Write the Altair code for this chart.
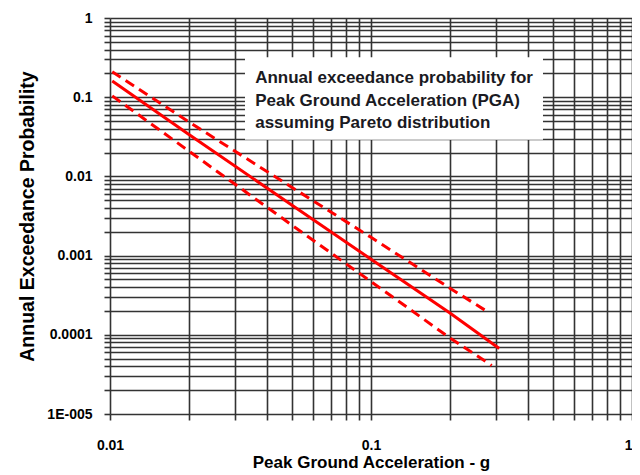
import altair as alt
import pandas as pd

# ---- data ----
central_x = [0.0102, 0.02, 0.05, 0.1, 0.2, 0.31]
central_y = [0.16, 0.034, 0.0043, 0.0009, 0.00019, 0.000067]

upper_x = [0.0102, 0.02, 0.05, 0.1, 0.2, 0.28]
upper_y = [0.21, 0.049, 0.0072, 0.0017, 0.00039, 0.000195]

lower_x = [0.0102, 0.02, 0.05, 0.1, 0.2, 0.29]
lower_y = [0.104, 0.021, 0.0024, 0.00047, 0.000092, 0.000041]

x_grid = [0.01, 0.02, 0.03, 0.04, 0.05, 0.06, 0.07, 0.08, 0.09,
          0.1, 0.2, 0.3, 0.4, 0.5, 0.6, 0.7, 0.8, 0.9, 1]
y_grid = []
for d in [1e-5, 1e-4, 1e-3, 1e-2, 1e-1]:
    for m in range(1, 10):
        y_grid.append(round(m * d, 8))
y_grid.append(1)

note_lines = ["Annual exceedance probability for",
              "Peak Ground Acceleration (PGA)",
              "assuming Pareto distribution"]
note_y = [0.175, 0.089, 0.047]
box_x = [0.0329, 0.456]
box_y = [0.32, 0.029]

FONT = "Liberation Sans"
RED = "#ff0000"
GRID = "#333333"

center_df = pd.DataFrame({"x": central_x, "y": central_y})
bounds_df = pd.concat([
    pd.DataFrame({"x": upper_x, "y": upper_y, "s": "upper"}),
    pd.DataFrame({"x": lower_x, "y": lower_y, "s": "lower"}),
])

xscale = alt.Scale(type="log", domain=[0.01, 1], nice=False)
yscale = alt.Scale(type="log", domain=[1e-5, 1], nice=False)

x_axis = alt.Axis(
    values=x_grid, grid=True, gridColor=GRID, gridWidth=1.6, gridOpacity=1,
    tickColor=GRID, tickWidth=1.6, tickSize=6, domain=False,
    labelExpr="datum.value == 0.01 ? '0.01' : datum.value == 0.1 ? '0.1' : datum.value == 1 ? '1' : ''",
    labelAlign={"expr": "datum.value == 1 ? 'right' : 'center'"},
    labelOverlap=False, labelFlush=False, labelFont=FONT, labelFontSize=14,
    labelFontWeight="bold", labelColor="#000", labelPadding=18,
    title="Peak Ground Acceleration - g", titleFont=FONT, titleFontSize=17,
    titleFontWeight="bold", titleColor="#000", titlePadding=2,
)
y_axis = alt.Axis(
    values=y_grid, grid=True, gridColor=GRID, gridWidth=1.6, gridOpacity=1,
    tickColor=GRID, tickWidth=1.6, tickSize=6, domain=False,
    labelExpr="datum.value == 1 ? '1' : datum.value == 0.1 ? '0.1' : datum.value == 0.01 ? '0.01' : datum.value == 0.001 ? '0.001' : datum.value == 0.0001 ? '0.0001' : datum.value == 0.00001 ? '1E-005' : ''",
    labelOverlap=False, labelFlush=False, labelFont=FONT, labelFontSize=14,
    labelFontWeight="bold", labelColor="#000", labelPadding=12,
    title="Annual Exceedance Probability", titleFont=FONT, titleFontSize=19.5,
    titleFontWeight="bold", titleColor="#000", titlePadding=9,
)

central = alt.Chart(center_df).mark_line(color=RED, strokeWidth=3).encode(
    x=alt.X("x:Q", scale=xscale, axis=x_axis),
    y=alt.Y("y:Q", scale=yscale, axis=y_axis),
)
bounds = alt.Chart(bounds_df).mark_line(color=RED, strokeWidth=3, strokeDash=[10, 6]).encode(
    x=alt.X("x:Q", scale=xscale),
    y=alt.Y("y:Q", scale=yscale),
    detail="s:N",
)
box = alt.Chart(pd.DataFrame({"x": [box_x[0]], "x2": [box_x[1]], "y": [box_y[0]], "y2": [box_y[1]]})).mark_rect(
    color="white", opacity=1
).encode(
    x=alt.X("x:Q", scale=xscale), x2="x2:Q",
    y=alt.Y("y:Q", scale=yscale), y2="y2:Q",
)
note = alt.Chart(pd.DataFrame({"t": note_lines, "y": note_y, "x": [0.036] * 3})).mark_text(
    align="left", baseline="middle", font=FONT, fontSize=17, fontWeight="bold", color="#1a1a22"
).encode(
    x=alt.X("x:Q", scale=xscale),
    y=alt.Y("y:Q", scale=yscale),
    text="t:N",
)

chart = alt.layer(central, bounds, box, note).properties(
    width=522, height=396,
    autosize=alt.AutoSizeParams(type="none"),
    padding={"left": 102, "top": 10, "right": 0, "bottom": 57},
).configure_view(stroke=None).configure(background="white")

chart.save("out.html", embed_options={"renderer": "svg", "actions": False})
